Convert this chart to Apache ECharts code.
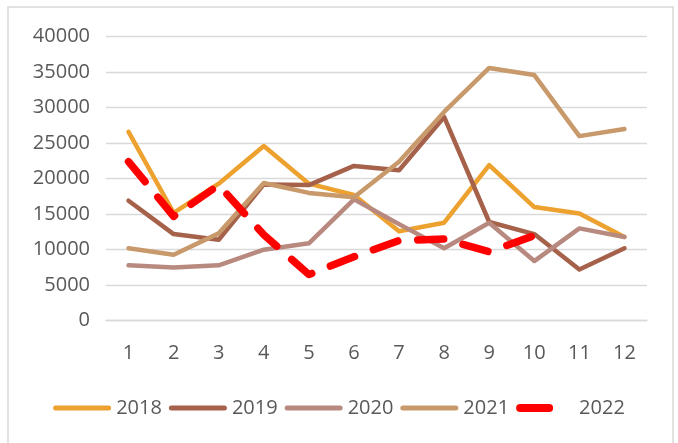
<!DOCTYPE html>
<html>
<head>
<meta charset="utf-8">
<script src="https://cdn.jsdelivr.net/npm/echarts@6/dist/echarts.min.js"></script>
<style>
  html, body { margin: 0; padding: 0; background: #fff; }
  #chart { width: 678px; height: 443px; }
</style>
</head>
<body>
<div id="chart"></div>
<script>
const months = ['1', '2', '3', '4', '5', '6', '7', '8', '9', '10', '11', '12']
const years = ['2018', '2019', '2020', '2021', '2022']
const colors = ['#EDA12F', '#A5614A', '#B88A7F', '#C8996B', '#FF0000']

const y2018 = [26600, 15200, 19300, 24600, 19300, 17700, 12600, 13800, 21900, 16000, 15100, 11800]
const y2019 = [16900, 12200, 11400, 19200, 19100, 21800, 21200, 28700, 13900, 12200, 7200, 10200]
const y2020 = [7800, 7500, 7800, 10000, 10900, 17100, 13600, 10200, 13800, 8400, 13000, 11800]
const y2021 = [10200, 9300, 12300, 19400, 18000, 17400, 22400, 29400, 35600, 34600, 26000, 27000]
const y2022 = [22400, 14700, 19100, 12100, 6500, 9000, 11300, 11500, 9700, 12000]

const yTicks = { min: 0, max: 40000, interval: 5000 }

const chart = echarts.init(document.getElementById('chart'))
const font = '"Open Sans", "Liberation Sans", sans-serif'
const textColor = '#595959'

// legend icons: thin rounded bar, and a short thick dash for 2022
const barIcon = 'path://M0,0M58,8M2.5,1.5H55.5A2.5,2.5,0,0,1,55.5,6.5H2.5A2.5,2.5,0,0,1,2.5,1.5Z'
const dashIcon = 'path://M0,0M58,8M4,0H33A4,4,0,0,1,33,8H4A4,4,0,0,1,4,0Z'

const seriesData = [y2018, y2019, y2020, y2021, y2022]

let series = seriesData.map((d, i) => {
  let isRed = i == 4
  return {
    name: years[i],
    type: 'line',
    data: d,
    symbol: 'none',
    animation: false,
    lineStyle: {
      color: colors[i],
      width: isRed ? 7.5 : 4.5,
      type: isRed ? [26, 20] : 'solid',
      cap: 'round',
      join: 'round'
    },
    itemStyle: { color: colors[i] },
    z: isRed ? 3 : 2
  }
})

let options = {
  backgroundColor: '#fff',
  animation: false,
  graphic: [
    {
      type: 'rect',
      shape: { x: 8, y: 7, width: 665, height: 460 },
      style: { fill: 'none', stroke: '#D9D9D9', lineWidth: 1.5 },
      silent: true
    }
  ],
  grid: {
    left: 106,
    right: 31,
    top: 36.7,
    bottom: 122.3,
    containLabel: false
  },
  legend: {
    top: 393,
    left: 'center',
    icon: barIcon,
    itemWidth: 58,
    itemHeight: 8,
    itemGap: 7,
    itemStyle: { borderWidth: 0, borderType: 'solid' },
    // shifts only the dashed 2022 key so that a single dash shows
    lineStyle: { dashOffset: 34 },
    textStyle: { fontFamily: font, fontSize: 20, color: textColor },
    data: years.map((y, i) => {
      return { name: y, icon: i == 4 ? dashIcon : barIcon }
    })
  },
  xAxis: {
    type: 'category',
    data: months,
    boundaryGap: true,
    axisLine: { lineStyle: { color: '#D9D9D9', width: 1.3 } },
    axisTick: { show: false },
    axisLabel: { fontFamily: font, fontSize: 20, color: textColor, margin: 23 }
  },
  yAxis: {
    type: 'value',
    min: yTicks.min,
    max: yTicks.max,
    interval: yTicks.interval,
    axisLine: { show: false },
    axisTick: { show: false },
    axisLabel: {
      fontFamily: font,
      fontSize: 20,
      color: textColor,
      margin: 16,
      formatter: (v) => String(v)
    },
    splitLine: { lineStyle: { color: '#D9D9D9', width: 1.3 } }
  },
  series: series
}

chart.setOption(options)
</script>
</body>
</html>
